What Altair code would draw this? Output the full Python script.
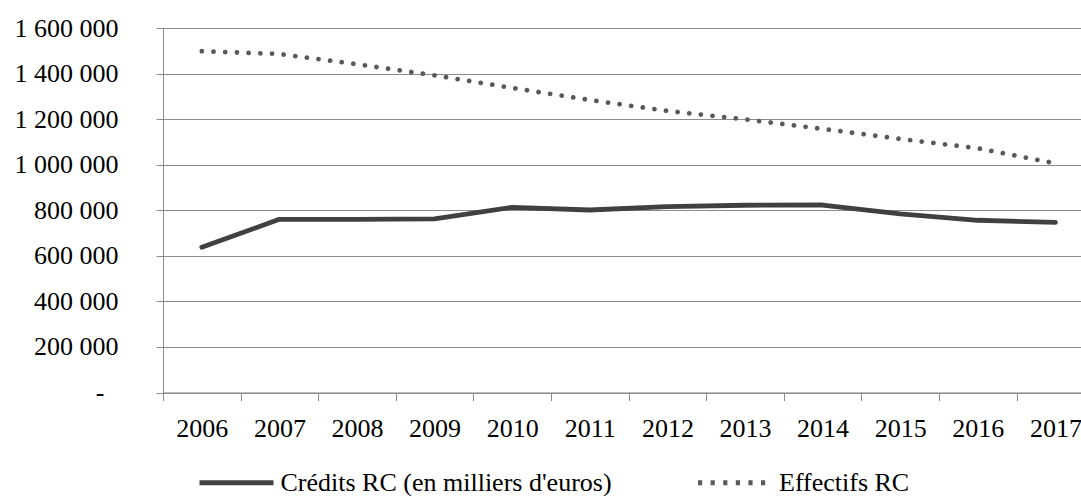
import altair as alt
import pandas as pd

# Yearly series
years = [2006, 2007, 2008, 2009, 2010, 2011, 2012, 2013, 2014, 2015, 2016, 2017]
credits_rc = [638000, 760000, 760000, 762000, 813000, 801000,
              816000, 822000, 823000, 784000, 756000, 747000]
effectifs_rc = [1498000, 1486000, 1441000, 1392000, 1337000, 1284000,
                1236000, 1199000, 1157000, 1113000, 1072000, 1006000]
series_names = ["Crédits RC (en milliers d'euros)", "Effectifs RC"]
series_colors = ["#404040", "#595959"]
y_ticks = [0, 200000, 400000, 600000, 800000, 1000000, 1200000, 1400000, 1600000]

rows = []
for name, vals in zip(series_names, [credits_rc, effectifs_rc]):
    for yr, v in zip(years, vals):
        rows.append({"year": yr, "value": v, "series": name})
df = pd.DataFrame(rows)

FONT = "Liberation Serif"
GRID = "#8c8c8c"
PLOT_W = 918
PLOT_H = 364.5
STEP = 77.6  # pixels per year
LINE_W = 4.8

x_scale = alt.Scale(domain=[2005.5, 2005.5 + PLOT_W / STEP], nice=False, zero=False)
y_scale = alt.Scale(domain=[0, 1600000], nice=False)

x_axis = alt.Axis(
    values=years,
    format="d",
    title=None,
    grid=False,
    domainColor=GRID,
    domainWidth=1,
    tickColor=GRID,
    tickWidth=1,
    tickSize=8,
    tickOffset=-STEP / 2,
    labelOffset=STEP / 2,
    labelFlush=False,
    labelOverlap=False,
    labelFont=FONT,
    labelFontSize=26,
    labelColor="#000000",
    labelPadding=15,
)

y_axis = alt.Axis(
    values=y_ticks,
    title=None,
    grid=True,
    gridColor=GRID,
    gridWidth=1,
    domainColor=GRID,
    domainWidth=1,
    tickColor=GRID,
    tickWidth=1,
    tickSize=7,
    labelFont=FONT,
    labelFontSize=26,
    labelColor="#000000",
    labelPadding={"condition": {"test": "datum.value == 0", "value": 52}, "value": 38},
    labelExpr="datum.value == 0 ? '-' : replace(format(datum.value, ',d'), regexp(',', 'g'), ' ')",
)

legend = alt.Legend(
    title=None,
    orient="none",
    legendX=34,
    legendY=415,
    direction="horizontal",
    symbolType="stroke",
    symbolSize=5476,
    symbolStrokeWidth=LINE_W,
    labelFont=FONT,
    labelFontSize=26,
    labelColor="#000000",
    labelOffset=4.5,
    labelLimit=0,
    columnPadding=75.5,
)

base = alt.Chart(df)

# Legend keys: series scales with explicit domains, no marks drawn
legend_layer = (
    base.transform_filter("false")
    .mark_line(strokeWidth=LINE_W)
    .encode(
        x=alt.X("year:Q", scale=x_scale, axis=x_axis),
        y=alt.Y("value:Q", scale=y_scale, axis=y_axis),
        strokeDash=alt.StrokeDash(
            "series:N",
            scale=alt.Scale(domain=series_names, range=[[1, 0], [4.2, 8.4]]),
            legend=legend,
        ),
        color=alt.Color(
            "series:N",
            scale=alt.Scale(domain=series_names, range=series_colors),
            legend=legend,
        ),
    )
)

credits_line = (
    base.transform_filter(alt.datum.series == series_names[0])
    .mark_line(strokeWidth=LINE_W, strokeCap="round", strokeJoin="round",
               color=series_colors[0])
    .encode(x=alt.X("year:Q", scale=x_scale), y=alt.Y("value:Q", scale=y_scale))
)

effectifs_line = (
    base.transform_filter(alt.datum.series == series_names[1])
    .mark_line(strokeWidth=LINE_W, strokeCap="round", strokeDash=[0.01, 11.7],
               color=series_colors[1])
    .encode(x=alt.X("year:Q", scale=x_scale), y=alt.Y("value:Q", scale=y_scale))
)

chart = (
    alt.layer(legend_layer, credits_line, effectifs_line)
    .properties(
        width=PLOT_W,
        height=PLOT_H,
        autosize=alt.AutoSizeParams(type="none"),
        padding={"left": 163, "top": 28, "right": 0, "bottom": 103.5},
    )
    .configure_view(stroke=None)
    .configure(background="#ffffff")
)

chart.save("out.html", embed_options={"renderer": "svg", "actions": False})
